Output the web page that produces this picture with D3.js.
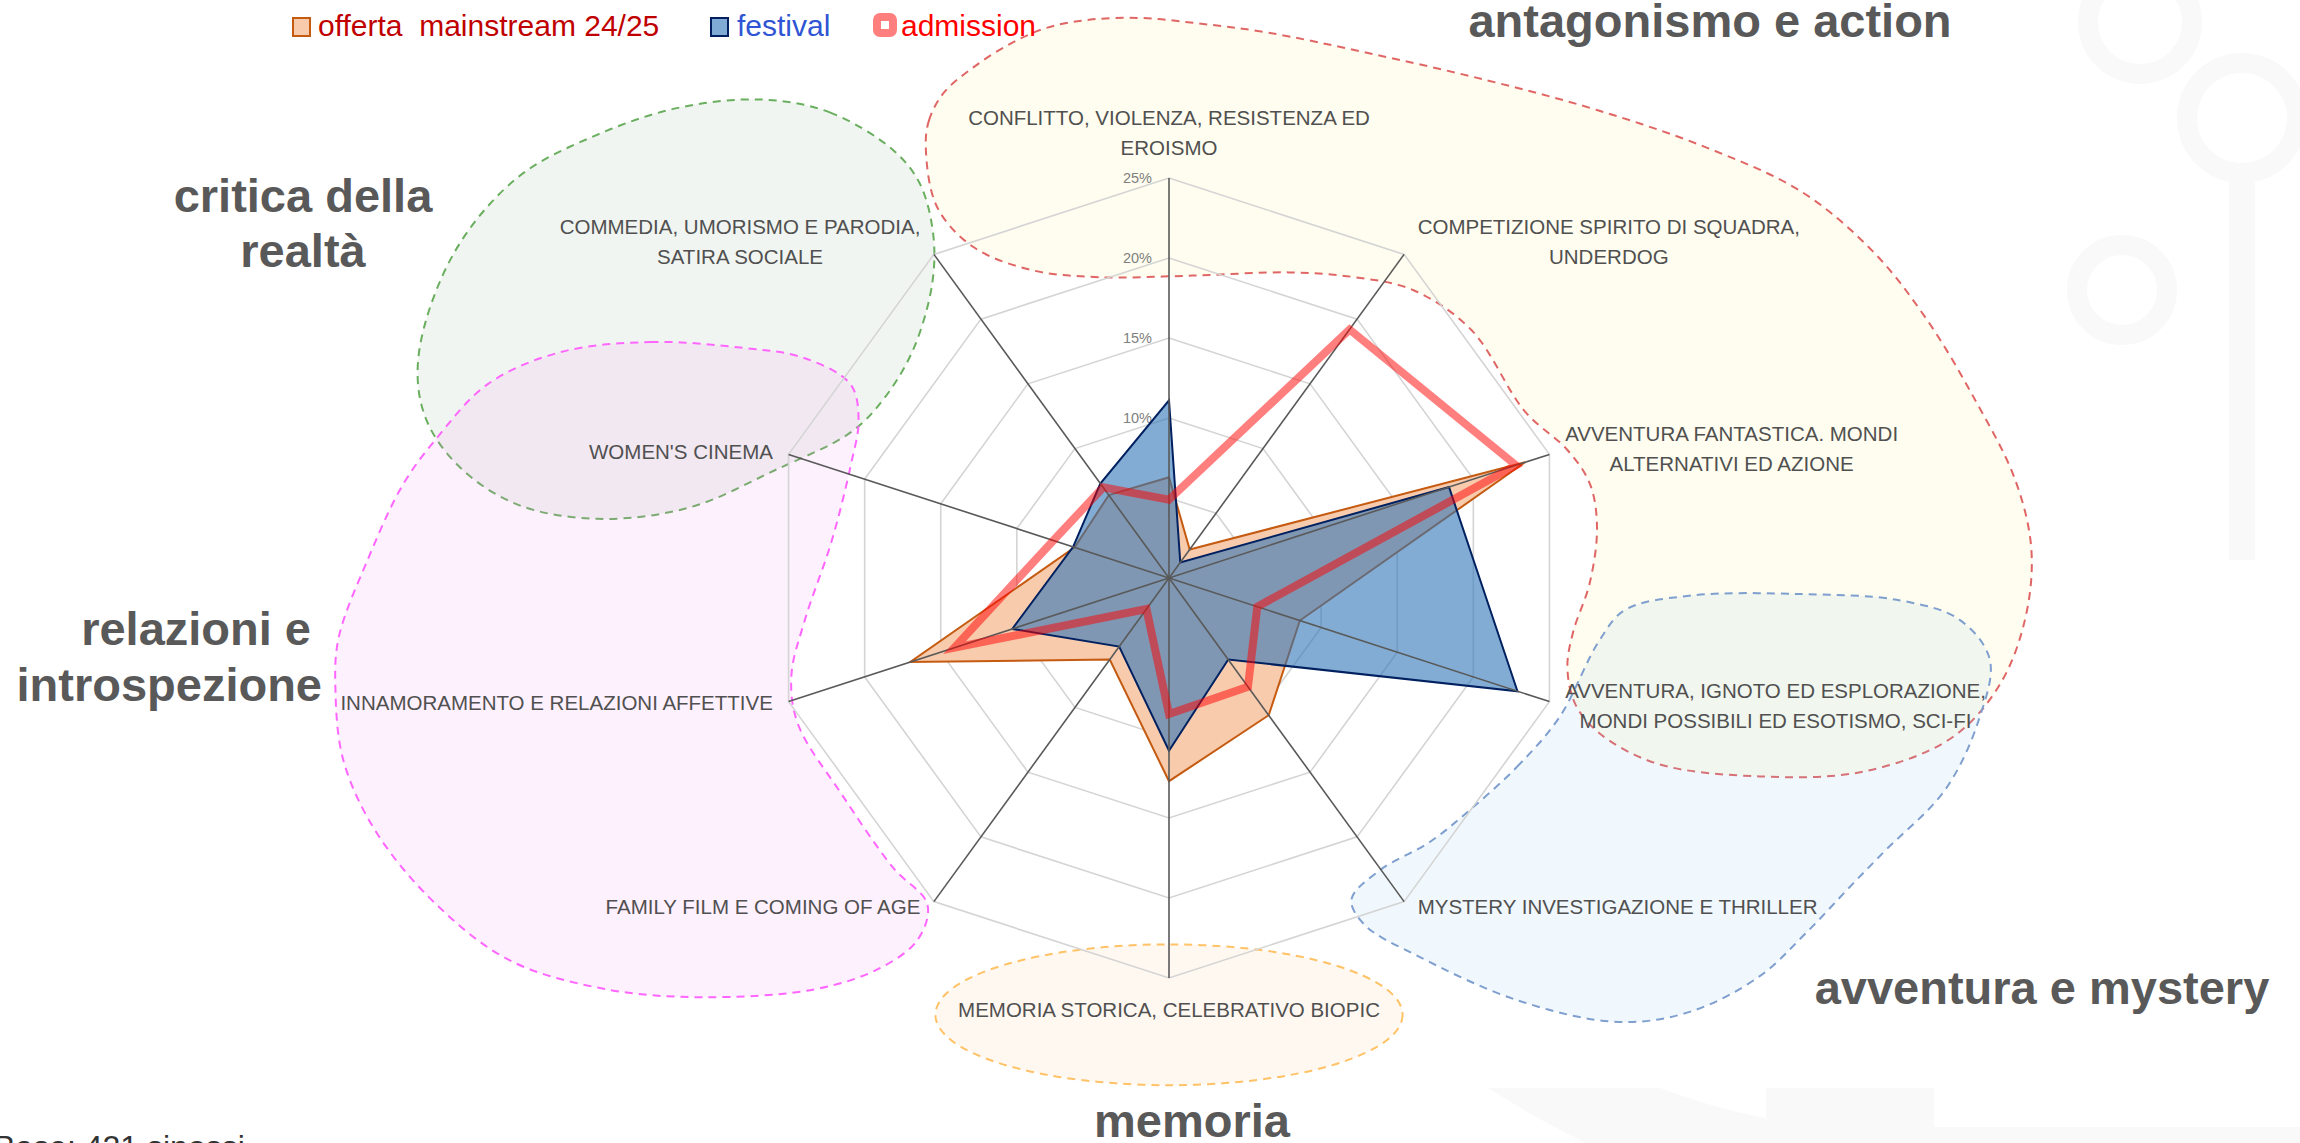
<!DOCTYPE html>
<html>
<head>
<meta charset="utf-8">
<script src="https://cdn.jsdelivr.net/npm/d3@7"></script>
<style>
body{margin:0;background:#fff}
svg{display:block}
text{font-family:"Liberation Sans",Arial,sans-serif}
</style>
</head>
<body>
<svg id="chart" width="2300" height="1143"></svg>
<script>
// axis categories, clockwise from the top
const categories=[
  "CONFLITTO, VIOLENZA, RESISTENZA ED\nEROISMO",
  "COMPETIZIONE SPIRITO DI SQUADRA,\nUNDERDOG",
  "AVVENTURA FANTASTICA. MONDI\nALTERNATIVI ED AZIONE",
  "AVVENTURA, IGNOTO ED ESPLORAZIONE,\nMONDI POSSIBILI ED ESOTISMO, SCI-FI",
  "MYSTERY INVESTIGAZIONE E THRILLER",
  "MEMORIA STORICA, CELEBRATIVO BIOPIC",
  "FAMILY FILM E COMING OF AGE",
  "INNAMORAMENTO E RELAZIONI AFFETTIVE",
  "WOMEN'S CINEMA",
  "COMMEDIA, UMORISMO E PARODIA,\nSATIRA SOCIALE"
];
// values in %
const offerta=[6.3,2.2,23.4,8.6,10.6,12.7,6.3,17.0,6.2,6.4];
const festival=[11.1,1.2,18.4,22.9,6.3,10.8,5.3,10.3,6.3,7.3];
const admission=[4.9,19.2,22.8,5.8,8.4,8.5,2.4,14.1,7.6,7.0];
const ticks=[0,5,10,15,20,25];
const seriesNames=["offerta  mainstream 24/25","festival","admission"];

// thematic areas, points in chart units (1 = 1% of the radial scale) from the centre
const areaA=[[-15.2,-26.9],[-15,-28.6],[-14.1,-30.3],[-12.25,-31.9],[-9.9,-33.4],[-7.6,-34.4],[-4.9,-34.9],[-1.7,-35],[1.5,-34.7],[6.1,-34.1],[12.5,-32.8],[19.9,-31.1],[26.75,-29.25],[33.6,-26.9],[39.6,-24.1],[44.1,-20.3],[47.4,-16.1],[50.4,-11.1],[52.9,-6.1],[53.9,-1.75],[53.5,2.6],[51.9,6.7],[48.9,10],[43.4,12.1],[36.9,12.4],[30.5,11.6],[26.9,9.7],[25.4,7.9],[24.9,5.6],[25.25,3.4],[26.3,0.3],[26.75,-3.2],[26.3,-5.9],[24.9,-8],[22.25,-10.4],[18.9,-15.5],[15.25,-18],[11.6,-18.8],[7.5,-19.1],[1.5,-18.9],[-4.4,-18.8],[-8.6,-19.25],[-12.25,-20.7],[-14.5,-23.2]];
const areaB=[[-25.4,-29.9],[-21.2,-29.1],[-17.25,-26.75],[-15.6,-24.7],[-14.75,-21.6],[-14.8,-18.4],[-16,-14.25],[-17.9,-11.1],[-19.9,-9.1],[-24.6,-6.75],[-30,-4.4],[-35.75,-3.7],[-40.75,-4.6],[-44.4,-7],[-46.5,-10.1],[-46.9,-13.9],[-44.75,-20.2],[-40.75,-25],[-35.75,-27.7],[-30.6,-29.4]];
const areaC=[[-38.1,-14.1],[-32.4,-14.75],[-26.8,-14.4],[-22.8,-13.75],[-19.9,-12.1],[-19.4,-9.9],[-19.9,-7],[-21.1,-2.25],[-22.75,2.6],[-23.6,6.1],[-23.2,9.1],[-20.4,13.6],[-17.25,18.1],[-15.1,20.4],[-15.7,22.6],[-18.1,24.4],[-22.1,25.7],[-29.2,26.2],[-35.2,25.7],[-41.2,23.9],[-45.9,20.3],[-49.6,15.8],[-51.6,11.4],[-52.1,6.9],[-51.9,3.75],[-50.1,-1.1],[-47.9,-5.8],[-45.8,-8.7],[-42.6,-12.1]];
const areaE=[[18.8,14.5],[21.75,11.8],[24.4,8.7],[26.9,3.9],[28.5,2],[32.6,1.1],[39.4,1],[45.7,1.4],[49.4,2.6],[51.3,5.1],[50.6,8.9],[48.5,13.25],[44.8,17],[42.75,19.1],[39.8,22.2],[36.9,24.9],[32.6,27.1],[28.1,27.75],[21.8,26.4],[15.5,23.6],[12.25,21.7],[11.4,20.1],[13.2,18.25],[16.3,16.5]];

const svg=d3.select("#chart");
const cx=1169, cy=578, radius=400;
const n=categories.length;
const r=d3.scaleLinear().domain([0,25]).range([0,radius]);
const angle=i=>i*2*Math.PI/n;

// faint background watermark
let deco=svg.append("g").attr("fill","none").attr("stroke","#f9f9f9").attr("stroke-width",20);
deco.append("circle").attr("cx",2140).attr("cy",22).attr("r",52);
deco.append("circle").attr("cx",2242).attr("cy",118).attr("r",55);
deco.append("line").attr("x1",2242).attr("y1",175).attr("x2",2242).attr("y2",560).attr("stroke-width",26);
deco.append("circle").attr("cx",2122).attr("cy",290).attr("r",45);
svg.append("path").attr("fill","#f9f9f9")
  .attr("d","M1488,1088 L1660,1088 Q1720,1110 1766,1118 L1766,1088 L1934,1088 L1934,1127 L2300,1127 L2300,1143 L1585,1143 Q1530,1115 1488,1088 Z");

// thematic areas
let blob=d3.line()
  .x(d=>cx+r(d[0]))
  .y(d=>cy+r(d[1]))
  .curve(d3.curveCatmullRomClosed.alpha(0.5));
let areas=svg.append("g");
function drawArea(pts,fill,op,stroke){
  areas.append("path").datum(pts)
    .attr("d",blob)
    .attr("fill",fill).attr("fill-opacity",op)
    .attr("stroke",stroke).attr("stroke-width",2)
    .attr("stroke-dasharray","8,6");
}
drawArea(areaA,"#fff5b0",0.2,"#e06666");
drawArea(areaB,"#a0bea0",0.15,"#6aaf5f");
drawArea(areaC,"#f596f5",0.13,"#ff66ff");
drawArea(areaE,"#96c8f0",0.13,"#7f9fcf");
areas.append("ellipse")
  .attr("cx",cx).attr("cy",cy+r(27.3))
  .attr("rx",r(14.6)).attr("ry",r(4.4))
  .attr("fill","#ffc88c").attr("fill-opacity",0.13)
  .attr("stroke","#ffc266").attr("stroke-width",2)
  .attr("stroke-dasharray","8,6");

let chart=svg.append("g").attr("transform","translate("+cx+","+cy+")");

// grid rings
let ring=d3.lineRadial()
  .angle((d,i)=>angle(i))
  .radius(d=>r(d))
  .curve(d3.curveLinearClosed);
chart.append("g").selectAll("path")
  .data(ticks.slice(1))
  .enter().append("path")
  .attr("d",t=>ring(d3.range(n).map(()=>t)))
  .attr("fill","none")
  .attr("stroke","#d4d4d4")
  .attr("stroke-width",1.6);

// tick labels
chart.append("g").selectAll("text")
  .data(ticks)
  .enter().append("text")
  .attr("x",-17)
  .attr("y",t=>-r(t))
  .attr("text-anchor","end")
  .attr("dominant-baseline","central")
  .attr("font-size",14.5)
  .attr("fill","#808080")
  .text(t=>t+"%");

// series
let shape=d3.lineRadial()
  .angle((d,i)=>angle(i))
  .radius(d=>r(d))
  .curve(d3.curveLinearClosed);
chart.append("path").datum(offerta)
  .attr("d",shape)
  .attr("fill","#f8cbad")
  .attr("stroke","#c55a11")
  .attr("stroke-width",2);
chart.append("path").datum(festival)
  .attr("d",shape)
  .attr("fill","#2e75b6").attr("fill-opacity",0.6)
  .attr("stroke","#002060")
  .attr("stroke-width",2);

// axes
chart.append("g").selectAll("line")
  .data(categories)
  .enter().append("line")
  .attr("x1",0).attr("y1",0)
  .attr("x2",(d,i)=>r(25)*Math.sin(angle(i)))
  .attr("y2",(d,i)=>-r(25)*Math.cos(angle(i)))
  .attr("stroke","#595959")
  .attr("stroke-width",1.6);

chart.append("path").datum(admission)
  .attr("d",shape)
  .attr("fill","none")
  .attr("stroke","#ff0000").attr("stroke-opacity",0.5)
  .attr("stroke-width",8)
  .attr("stroke-linejoin","miter");

// category labels
let labels=chart.append("g");
categories.forEach(function(name,i){
  let s=Math.sin(angle(i)), c=Math.cos(angle(i));
  let ex=r(25)*s, ey=-r(25)*c;
  let lines=name.split("\n");
  let lh=30, h=lines.length*lh;
  let side=Math.abs(s)<0.1 ? 0 : (s>0?1:-1);
  let yc= side===0 ? ey-c*(h/2+16) : ey-c*h*0.25-1;
  let g=labels.append("g");
  let t=g.selectAll("text").data(lines).enter().append("text")
    .attr("y",(d,k)=>yc+(k-(lines.length-1)/2)*lh)
    .attr("dominant-baseline","central")
    .attr("text-anchor","middle")
    .attr("font-size",20.5)
    .attr("fill","#505050")
    .text(d=>d);
  let w=d3.max(t.nodes(),nd=>nd.getComputedTextLength());
  let gap=10+6*Math.abs(s);
  let x= side===0 ? ex : (side>0 ? ex+gap+w/2 : ex-gap-w/2);
  t.attr("x",x);
});

// area titles
let titles=svg.append("g")
  .attr("font-size",47).attr("font-weight","bold").attr("fill","#595959");
titles.append("text").attr("x",1710).attr("y",37).attr("text-anchor","middle").text("antagonismo e action");
titles.append("text").attr("x",303).attr("y",212).attr("text-anchor","middle").text("critica della");
titles.append("text").attr("x",303).attr("y",267).attr("text-anchor","middle").text("realtà");
titles.append("text").attr("x",311).attr("y",645).attr("text-anchor","end").text("relazioni e");
titles.append("text").attr("x",322).attr("y",701).attr("text-anchor","end").text("introspezione");
titles.append("text").attr("x",2042).attr("y",1004).attr("text-anchor","middle").text("avventura e mystery");
titles.append("text").attr("x",1192).attr("y",1137).attr("text-anchor","middle").text("memoria");

svg.append("text").attr("x",-6).attr("y",1158)
  .attr("font-size",32).attr("fill","#333333")
  .text("Base: 421 sinossi");

// legend
let legend=svg.append("g").attr("font-size",30);
legend.append("rect").attr("x",293).attr("y",18).attr("width",17).attr("height",18)
  .attr("fill","#f8cbad").attr("stroke","#c55a11").attr("stroke-width",2);
legend.append("text").attr("x",318).attr("y",36).attr("fill","#c00000")
  .attr("xml:space","preserve").style("white-space","pre").text(seriesNames[0]);
legend.append("rect").attr("x",711).attr("y",18).attr("width",17).attr("height",18)
  .attr("fill","#7fabd5").attr("stroke","#002060").attr("stroke-width",2);
legend.append("text").attr("x",737).attr("y",36).attr("fill","#2f55d4").text(seriesNames[1]);
legend.append("rect").attr("x",877).attr("y",17).attr("width",16).attr("height",16).attr("rx",3)
  .attr("fill","#ffffff").attr("stroke","#ff0000").attr("stroke-opacity",0.5).attr("stroke-width",8);
legend.append("text").attr("x",901).attr("y",36).attr("fill","#ff0000").text(seriesNames[2]);
</script>
</body>
</html>
